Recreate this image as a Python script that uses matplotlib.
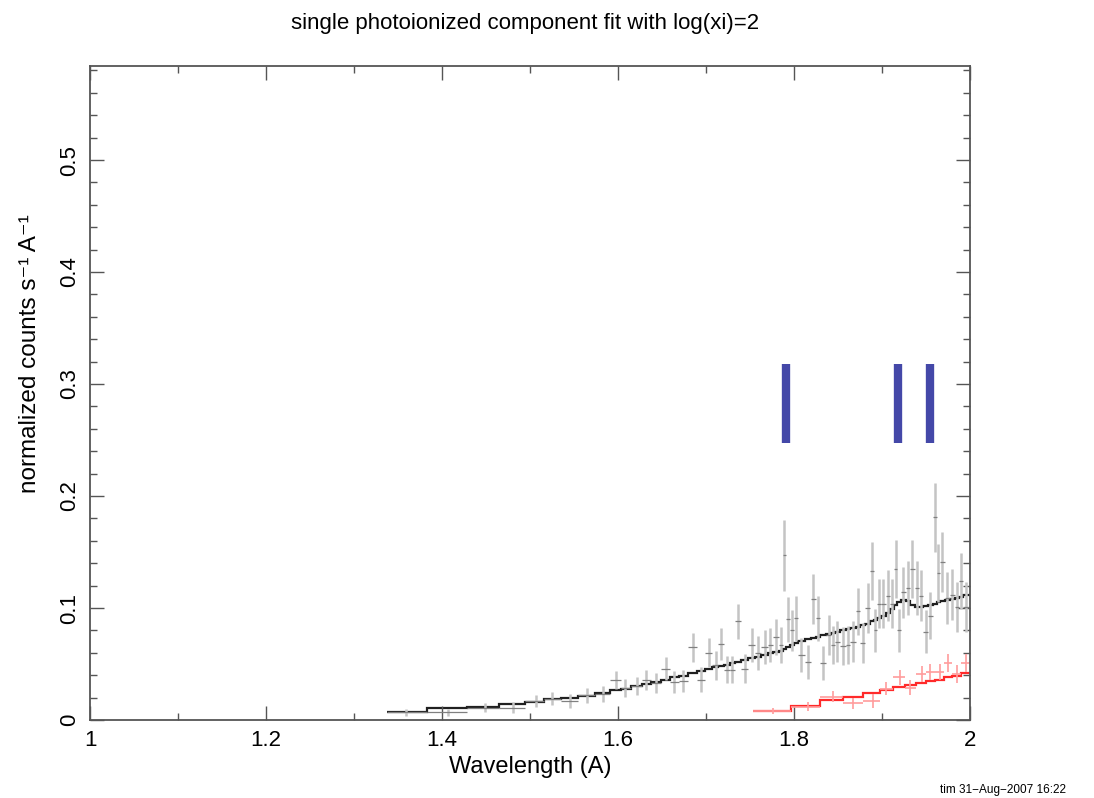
import numpy as np
import matplotlib
matplotlib.use("Agg")
import matplotlib.pyplot as plt
from matplotlib.ticker import MultipleLocator

plt.rcParams['font.family'] = ['Liberation Sans', 'DejaVu Sans']

# black data set (first spectrum)
blk_wl = [1.359, 1.407, 1.449, 1.481, 1.507, 1.525, 1.545, 1.565, 1.583, 1.598,
          1.608, 1.622, 1.632, 1.643, 1.655, 1.664, 1.674, 1.685, 1.694, 1.703,
          1.711, 1.717, 1.724, 1.730, 1.736, 1.744, 1.752, 1.759, 1.767, 1.773,
          1.780, 1.785, 1.789, 1.793, 1.798, 1.802, 1.808, 1.816, 1.822, 1.827,
          1.833, 1.840, 1.844, 1.849, 1.856, 1.861, 1.867, 1.873, 1.878, 1.884,
          1.889, 1.892, 1.897, 1.901, 1.907, 1.911, 1.916, 1.919, 1.924, 1.930,
          1.934, 1.940, 1.944, 1.950, 1.955, 1.960, 1.964, 1.968, 1.974, 1.980,
          1.985, 1.990, 1.995]
blk_cts = [0.007, 0.007, 0.011, 0.011, 0.017, 0.019, 0.017, 0.022, 0.023, 0.036,
           0.029, 0.030, 0.036, 0.033, 0.046, 0.034, 0.035, 0.065, 0.036, 0.060,
           0.049, 0.068, 0.045, 0.045, 0.088, 0.046, 0.067, 0.060, 0.065, 0.067,
           0.074, 0.067, 0.147, 0.090, 0.080, 0.091, 0.058, 0.052, 0.108, 0.091,
           0.051, 0.076, 0.067, 0.070, 0.066, 0.067, 0.070, 0.097, 0.069, 0.100,
           0.133, 0.080, 0.104, 0.104, 0.111, 0.104, 0.135, 0.080, 0.114, 0.118,
           0.135, 0.118, 0.111, 0.079, 0.093, 0.181, 0.131, 0.141, 0.109, 0.112,
           0.101, 0.124, 0.101]
blk_err = [0.003, 0.003, 0.004, 0.005, 0.005, 0.006, 0.006, 0.007, 0.007, 0.008,
           0.008, 0.008, 0.009, 0.009, 0.010, 0.010, 0.010, 0.013, 0.011, 0.013,
           0.013, 0.014, 0.012, 0.012, 0.016, 0.013, 0.015, 0.015, 0.015, 0.015,
           0.016, 0.016, 0.032, 0.020, 0.018, 0.020, 0.015, 0.015, 0.022, 0.020,
           0.015, 0.018, 0.017, 0.018, 0.017, 0.017, 0.018, 0.021, 0.018, 0.022,
           0.026, 0.019, 0.022, 0.022, 0.023, 0.022, 0.026, 0.019, 0.023, 0.024,
           0.026, 0.024, 0.023, 0.019, 0.021, 0.031, 0.026, 0.027, 0.023, 0.023,
           0.022, 0.025, 0.022]
blk_model = [0.0074, 0.0104, 0.0119, 0.0140, 0.0164, 0.0185, 0.0200, 0.0215, 0.0245, 0.0265,
             0.0275, 0.0305, 0.0320, 0.0340, 0.0360, 0.0380, 0.0395, 0.0420, 0.0440, 0.0460,
             0.0470, 0.0480, 0.0495, 0.0505, 0.0520, 0.0540, 0.0555, 0.0565, 0.0580, 0.0600,
             0.0610, 0.0620, 0.0630, 0.0650, 0.0670, 0.0690, 0.0710, 0.0720, 0.0730, 0.0745,
             0.0755, 0.0770, 0.0780, 0.0790, 0.0800, 0.0810, 0.0820, 0.0830, 0.0845, 0.0860,
             0.0880, 0.0890, 0.0910, 0.0930, 0.0960, 0.0990, 0.1030, 0.1055, 0.1070, 0.1060,
             0.1030, 0.1010, 0.1010, 0.1020, 0.1030, 0.1040, 0.1050, 0.1060, 0.1070, 0.1080,
             0.1090, 0.1100, 0.1120]
blk_lo, blk_hi = 1.3375, 2.0

# red data set (second spectrum)
red_wl = [1.776, 1.816, 1.844, 1.867, 1.890, 1.905, 1.920, 1.932, 1.945, 1.955,
          1.966, 1.975, 1.985, 1.995]
red_cts = [0.008, 0.012, 0.021, 0.015, 0.017, 0.028, 0.038, 0.029, 0.041, 0.043,
           0.043, 0.051, 0.041, 0.051]
red_err = [0.003, 0.004, 0.005, 0.005, 0.006, 0.006, 0.007, 0.007, 0.007, 0.007,
           0.007, 0.008, 0.008, 0.008]
red_model = [0.008, 0.0125, 0.018, 0.0205, 0.024, 0.027, 0.0295, 0.031, 0.033, 0.035,
             0.036, 0.038, 0.039, 0.042]
red_lo, red_hi = 1.753, 2.0

# line markers
line_wl = [1.791, 1.918, 1.955]
line_lo, line_hi = 0.247, 0.318


def bin_edges(centres, lo, hi):
    c = np.asarray(centres)
    return np.concatenate([[lo], (c[:-1] + c[1:]) / 2, [hi]])


fig = plt.figure(figsize=(10.94, 7.98), dpi=100)
ax = fig.add_axes([0.0823, 0.0977, 0.8044, 0.8196])

# black spectrum
e = bin_edges(blk_wl, blk_lo, blk_hi)
c = np.asarray(blk_wl)
ax.errorbar(blk_wl, blk_cts, yerr=blk_err, fmt='none', ecolor='#c4c4c4', elinewidth=1.8)
ax.errorbar(blk_wl, blk_cts, xerr=[c - e[:-1], e[1:] - c], fmt='none', ecolor='#808080', elinewidth=0.9)
ax.stairs(blk_model, e, color='#202020', lw=1.6, baseline=None)

# red spectrum
e = bin_edges(red_wl, red_lo, red_hi)
c = np.asarray(red_wl)
ax.errorbar(red_wl, red_cts, yerr=red_err, xerr=[c - e[:-1], e[1:] - c], fmt='none',
            ecolor='#ff9c9c', elinewidth=1.2)
ax.stairs(red_model, e, color='#ff2a2a', lw=1.6, baseline=None)

ax.vlines(line_wl, line_lo, line_hi, color='#4448a8', lw=6)

ax.set_xlim(1, 2)
ax.set_ylim(0, 0.584)
ax.xaxis.set_major_locator(MultipleLocator(0.2))
ax.xaxis.set_minor_locator(MultipleLocator(0.1))
ax.yaxis.set_major_locator(MultipleLocator(0.1))
ax.yaxis.set_minor_locator(MultipleLocator(0.02))
ax.xaxis.set_major_formatter(plt.FuncFormatter(lambda v, p: f'{v:g}'))
ax.yaxis.set_major_formatter(plt.FuncFormatter(lambda v, p: f'{v:g}'))
ax.tick_params(which='both', direction='in', top=True, right=True, color='#555555',
               labelsize=16, width=1)
ax.tick_params(which='major', length=10, pad=7)
ax.tick_params(which='minor', length=5)
for lab in ax.get_yticklabels():
    lab.set_rotation(90)
    lab.set_va('center')
for s in ax.spines.values():
    s.set_color('#555555')
    s.set_linewidth(1.3)

ax.set_xlabel('Wavelength (A)', fontsize=17, labelpad=4)
ax.set_ylabel('normalized counts s\u207b\u00b9 A\u207b\u00b9', fontsize=17.5)
ax.yaxis.set_label_coords(-0.056, 0.56)
fig.text(0.48, 0.970, 'single photoionized component fit with log(xi)=2',
         ha='center', va='center', fontsize=16)
fig.text(0.974, 0.010, 'tim 31\u2212Aug\u22122007 16:22', ha='right', va='center', fontsize=8.5)

fig.savefig('out.png', dpi=100)
